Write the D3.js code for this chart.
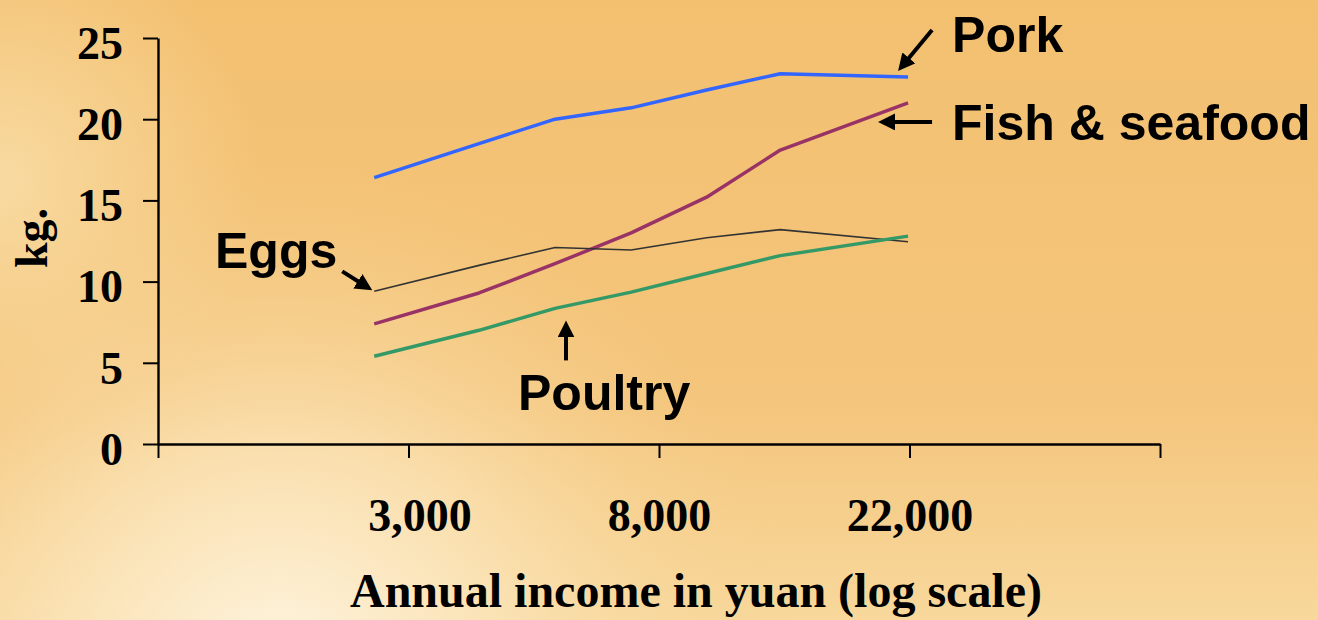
<!DOCTYPE html>
<html>
<head>
<meta charset="utf-8">
<script src="https://cdn.jsdelivr.net/npm/d3@7"></script>
<style>
  html, body { margin: 0; padding: 0; overflow: hidden; }
  svg { display: block; }
</style>
</head>
<body>
<svg id="chart" width="1318" height="620"></svg>
<script>
// income groups (yuan per year)
var incomes = [2600, 3950, 5350, 7250, 9800, 13150, 21900];

var pork    = [16.4, 18.5, 20.0, 20.7, 21.8, 22.8, 22.6];
var fish    = [7.4, 9.3, 11.1, 13.0, 15.2, 18.1, 21.0];
var eggs    = [9.4, 11.0, 12.1, 11.95, 12.7, 13.2, 12.45];
var poultry = [5.4, 7.0, 8.35, 9.35, 10.5, 11.6, 12.8];

// axis ticks: ln(income) = 7..11, only 8, 9, 10 carry labels
var xTickIncome = [Math.exp(7), Math.exp(8), Math.exp(9), Math.exp(10), Math.exp(11)];
var xTickLabels = ["", "3,000", "8,000", "22,000", ""];
var yTicks = [0, 5, 10, 15, 20, 25];

var series = [
  {name: "Pork",    values: pork,    color: "#3366ff", width: 3.5},
  {name: "Fish",    values: fish,    color: "#993366", width: 3.5},
  {name: "Eggs",    values: eggs,    color: "#333333", width: 1.6},
  {name: "Poultry", values: poultry, color: "#339966", width: 3.5}
];

var svg = d3.select("#chart");
var W = 1318, H = 620;

// background
var defs = svg.append("defs");
var bg = defs.append("linearGradient").attr("id", "bg")
  .attr("x1", 0).attr("y1", 0).attr("x2", 0).attr("y2", 1);
bg.append("stop").attr("offset", "0%").attr("stop-color", "#f3c070");
bg.append("stop").attr("offset", "65%").attr("stop-color", "#f4c57c");
bg.append("stop").attr("offset", "100%").attr("stop-color", "#f8d89c");

var glow = defs.append("radialGradient").attr("id", "glow")
  .attr("gradientUnits", "userSpaceOnUse")
  .attr("cx", 280).attr("cy", 680).attr("r", 520);
glow.append("stop").attr("offset", "0%").attr("stop-color", "#fef6e4").attr("stop-opacity", 1);
glow.append("stop").attr("offset", "45%").attr("stop-color", "#fbe4b8").attr("stop-opacity", 0.8);
glow.append("stop").attr("offset", "100%").attr("stop-color", "#f6d08c").attr("stop-opacity", 0);

var edge = defs.append("radialGradient").attr("id", "edge")
  .attr("gradientUnits", "userSpaceOnUse")
  .attr("cx", 0).attr("cy", 180).attr("r", 260);
edge.append("stop").attr("offset", "0%").attr("stop-color", "#f9dda6").attr("stop-opacity", 0.9);
edge.append("stop").attr("offset", "100%").attr("stop-color", "#f9dda6").attr("stop-opacity", 0);

svg.append("rect").attr("width", W).attr("height", H).attr("fill", "url(#bg)");
svg.append("rect").attr("width", W).attr("height", H).attr("fill", "url(#edge)");
svg.append("rect").attr("width", W).attr("height", H).attr("fill", "url(#glow)");

// arrow marker
defs.append("marker")
  .attr("id", "arrow")
  .attr("viewBox", "0 -5 10 10")
  .attr("refX", 5)
  .attr("refY", 0)
  .attr("markerWidth", 17)
  .attr("markerHeight", 17)
  .attr("markerUnits", "userSpaceOnUse")
  .attr("orient", "auto")
  .append("path")
  .attr("d", "M0,-5L10,0L0,5Z")
  .attr("fill", "#000");

// scales
var x = d3.scaleLog().domain([Math.exp(7), Math.exp(11)]).range([158, 1160]);
var y = d3.scaleLinear().domain([0, 25]).range([444, 38]);

var serif = "'Liberation Serif', 'Times New Roman', serif";
var sans = "'Liberation Sans', Arial, sans-serif";

// axes
var yAxis = svg.append("g")
  .attr("transform", "translate(158,0)")
  .call(d3.axisLeft(y).tickValues(yTicks).tickSize(15).tickSizeOuter(0).tickPadding(20));

var xAxis = svg.append("g")
  .attr("transform", "translate(0,444)")
  .call(d3.axisBottom(x).tickValues(xTickIncome).tickSize(14).tickSizeOuter(0).tickPadding(40)
    .tickFormat(function(d, i){ return xTickLabels[i]; }));

[yAxis, xAxis].forEach(function(g){
  g.select(".domain").attr("stroke", "#000").attr("stroke-width", 2.4);
  g.selectAll(".tick line").attr("stroke", "#000").attr("stroke-width", 2);
  g.selectAll(".tick text")
    .attr("fill", "#000")
    .style("font-family", serif)
    .style("font-weight", "bold")
    .style("font-size", "46px");
});
yAxis.selectAll(".tick text").attr("dy", "0.44em");
// the first label sits a little right of its tick in the original
xAxis.selectAll(".tick text").filter(function(d, i){ return i === 1; }).attr("dx", 11);

// axis titles
svg.append("text")
  .attr("transform", "translate(47,238) rotate(-90)")
  .attr("text-anchor", "middle")
  .style("font-family", serif).style("font-weight", "bold").style("font-size", "46px")
  .text("kg.");

svg.append("text")
  .attr("x", 696).attr("y", 607)
  .attr("text-anchor", "middle")
  .style("font-family", serif).style("font-weight", "bold").style("font-size", "48px")
  .text("Annual income in yuan (log scale)");

// lines
var line = d3.line()
  .x(function(d, i){ return x(incomes[i]); })
  .y(function(d){ return y(d); });

svg.append("g").selectAll("path")
  .data(series)
  .enter()
  .append("path")
  .attr("fill", "none")
  .attr("stroke", function(d){ return d.color; })
  .attr("stroke-width", function(d){ return d.width; })
  .attr("stroke-linejoin", "round")
  .attr("d", function(d){ return line(d.values); });

// annotations, anchored on a data point of each series (offsets in px)
var notes = [
  {label: "Pork",           values: pork,    at: 6, tip: [-10, -6], tail: [24, -47], text: [44, -25],  anchor: "start"},
  {label: "Fish & seafood", values: fish,    at: 6, tip: [-30, 19], tail: [24, 19],  text: [44, 37],   anchor: "start"},
  {label: "Eggs",           values: eggs,    at: 0, tip: [-2, -1],  tail: [-32, -20], text: [-37, -23], anchor: "end"},
  {label: "Poultry",        values: poultry, at: 2, tip: [11, 12],  tail: [11, 52],  text: [-37, 102], anchor: "start"}
];

var ann = svg.append("g");
notes.forEach(function(n){
  var px = x(incomes[n.at]), py = y(n.values[n.at]);
  var tx = px + n.tip[0], ty = py + n.tip[1];
  var sx = px + n.tail[0], sy = py + n.tail[1];
  // stop the shaft short of the tip so the head covers it
  var len = Math.sqrt((tx - sx) * (tx - sx) + (ty - sy) * (ty - sy));
  var k = (len - 8.5) / len;
  ann.append("line")
    .attr("x1", sx).attr("y1", sy)
    .attr("x2", sx + k * (tx - sx)).attr("y2", sy + k * (ty - sy))
    .attr("stroke", "#000").attr("stroke-width", 4)
    .attr("marker-end", "url(#arrow)");
  ann.append("text")
    .attr("x", px + n.text[0]).attr("y", py + n.text[1])
    .attr("text-anchor", n.anchor)
    .style("font-family", sans).style("font-weight", "bold").style("font-size", "50px")
    .text(n.label);
});
</script>
</body>
</html>
